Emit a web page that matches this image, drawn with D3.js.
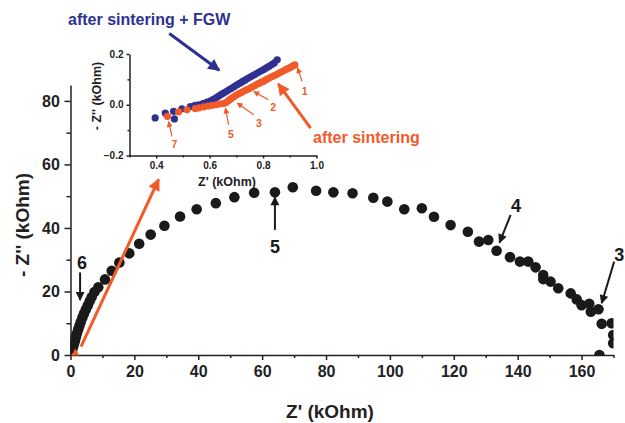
<!DOCTYPE html>
<html><head><meta charset="utf-8">
<script src="https://cdn.jsdelivr.net/npm/d3@7"></script>
<style>
body{margin:0;background:#fff;}
svg text{font-family:"Liberation Sans",Arial,sans-serif;font-weight:bold;}
</style></head>
<body><svg id="c" width="625" height="423"></svg>
<script>
// ---------- data ----------
// main Nyquist plot (kOhm)
const mainZre = [0.05,0.2,0.5,0.8,1.1,1.4,1.7,2.0,2.4,2.8,3.2,3.7,4.2,4.8,5.4,6.0,6.6,7.5,8.7,10.8,12.9,15.3,18.4,21.5,25.1,29.4,34.3,39.5,45.5,51.3,57.5,64.0,69.6,76.9,82.3,88.3,94.8,99.2,104.5,110.0,113.8,119.0,124.4,127.9,130.8,133.4,137.6,140.7,143.3,145.6,148.0,148.0,150.3,152.7,156.6,158.5,160.0,162.4,162.9,165.3,166.3,169.4,169.9,169.9,165.6];
const mainZim = [0.2,0.5,1.5,2.5,3.5,4.6,5.7,6.8,8.0,9.2,10.4,11.7,13.0,14.3,15.6,16.9,18.2,19.8,21.3,23.8,26.5,29.1,32.0,35.0,37.9,40.7,43.6,45.9,47.8,49.7,51.1,51.2,52.8,51.7,51.2,50.9,49.5,48.3,45.9,46.2,43.5,40.9,38.8,35.7,36.2,32.8,30.8,29.4,29.4,27.6,25.2,23.9,23.1,21.0,19.4,17.5,15.7,16.1,13.6,14.4,9.8,10.0,6.3,3.7,0.0];
// inset: after sintering + FGW (blue)
const fgwZre = [0.396,0.434,0.465,0.468,0.496,0.528,0.545,0.559,0.575,0.59,0.602,0.612,0.622,0.632,0.642,0.652,0.662,0.672,0.682,0.692,0.702,0.712,0.722,0.732,0.742,0.752,0.762,0.772,0.782,0.792,0.802,0.812,0.822,0.832,0.842,0.853];
const fgwZim = [-0.052,-0.033,-0.026,-0.056,-0.016,-0.007,-0.002,0.0,0.005,0.01,0.014,0.02,0.026,0.033,0.04,0.046,0.052,0.059,0.065,0.072,0.078,0.084,0.091,0.097,0.103,0.109,0.115,0.121,0.127,0.133,0.139,0.145,0.151,0.158,0.165,0.177];
// inset: after sintering (orange)
const sintZre = [0.442,0.484,0.515,0.546,0.56,0.578,0.595,0.61,0.625,0.64,0.652,0.66,0.67,0.68,0.69,0.70,0.71,0.72,0.73,0.74,0.75,0.76,0.77,0.78,0.79,0.80,0.81,0.82,0.83,0.84,0.85,0.86,0.87,0.88,0.89,0.90,0.91,0.919];
const sintZim = [-0.046,-0.028,-0.02,-0.015,-0.012,-0.008,-0.005,-0.002,0.0,0.003,0.005,0.008,0.016,0.024,0.031,0.038,0.044,0.049,0.055,0.060,0.065,0.071,0.076,0.082,0.087,0.092,0.098,0.103,0.109,0.114,0.119,0.125,0.130,0.136,0.141,0.146,0.152,0.157];
// ticks
const mainXTicks = [0,20,40,60,80,100,120,140,160];
const mainYTicks = [0,20,40,60,80];
const insetXTicks = [0.4,0.6,0.8,1.0];
const insetYTicks = [-0.2,0.0,0.2];
// annotation labels (main): label, label pos, arrow tail, arrow head (data coords)
const mainNotes = [
  {t:"6", lx:3.6, ly:29.0, x1:3.0, y1:26.0, x2:3.0, y2:17.3},
  {t:"5", lx:64.0, ly:34.0, x1:64.0, y1:39.4, x2:64.0, y2:49.7},
  {t:"4", lx:139.5, ly:47.0, x1:137.8, y1:44.1, x2:134.3, y2:35.4},
  {t:"3", lx:171.8, ly:31.5, x1:170.2, y1:29.4, x2:166.3, y2:16.3}
];
const insetNotes = [
  {t:"1", lx:0.956, ly:0.052, x1:0.946, y1:0.092, x2:0.929, y2:0.146},
  {t:"2", lx:0.838, ly:-0.012, x1:0.82, y1:0.02, x2:0.765, y2:0.052},
  {t:"3", lx:0.784, ly:-0.074, x1:0.765, y1:-0.039, x2:0.703, y2:0.007},
  {t:"5", lx:0.68, ly:-0.117, x1:0.671, y1:-0.079, x2:0.659, y2:-0.013},
  {t:"7", lx:0.468, ly:-0.156, x1:0.459, y1:-0.125, x2:0.446, y2:-0.066}
];

const BLUE="#2e3192", ORANGE="#f15a29", BLACK="#1a1a1a";
const svg=d3.select("#c");
const defs=svg.append("defs");
function marker(id,color,w,h){
  defs.append("marker").attr("id",id).attr("viewBox","0 0 10 10").attr("refX",9).attr("refY",5)
    .attr("markerWidth",w).attr("markerHeight",h).attr("markerUnits","userSpaceOnUse").attr("orient","auto")
    .append("path").attr("d","M0,0 L10,5 L0,10 Z").attr("fill",color);
}
marker("aBlack",BLACK,11,9);
marker("aOrange",ORANGE,14,12);
marker("aOrangeS",ORANGE,7,6);
marker("aBlue",BLUE,14,12);

// ---------- main plot ----------
const x=d3.scaleLinear().domain([0,170]).range([70.5,613.5]);
const y=d3.scaleLinear().domain([0,85]).range([355,85]);
defs.append("clipPath").attr("id","mclip").append("rect")
  .attr("x",x(0)).attr("y",y(85)).attr("width",x(170)-x(0)).attr("height",y(0)-y(85));

const xAxis=d3.axisBottom(x).tickValues(mainXTicks).tickFormat(d3.format("d")).tickSize(5).tickSizeOuter(0);
const gx=svg.append("g").attr("transform",`translate(0,${y(0)})`).call(xAxis);
gx.selectAll(".tick text").attr("font-size",16).attr("dy","0.9em").attr("fill","#222");
svg.append("g").attr("transform",`translate(0,${y(0)})`)
  .call(d3.axisBottom(x).tickValues(d3.range(10,171,20)).tickFormat("").tickSize(3).tickSizeOuter(0))
  .select(".domain").remove();
const gy=svg.append("g").attr("transform",`translate(${x(0)},0)`)
  .call(d3.axisLeft(y).tickValues(mainYTicks).tickFormat(d3.format("d")).tickSize(6).tickSizeOuter(0));
gy.selectAll(".tick text").attr("font-size",16).attr("dx","-0.1em").attr("fill","#222");
svg.append("g").attr("transform",`translate(${x(0)},0)`)
  .call(d3.axisLeft(y).tickValues([10,30,50,70]).tickFormat("").tickSize(4).tickSizeOuter(0))
  .select(".domain").remove();
svg.selectAll(".domain,.tick line").attr("stroke","#222").attr("stroke-width",1.5);

svg.append("text").attr("x",330).attr("y",418).attr("text-anchor","middle").attr("font-size",19).attr("fill","#222").text("Z' (kOhm)");
svg.append("text").attr("transform","translate(29,225) rotate(-90)").attr("text-anchor","middle").attr("font-size",19).attr("fill","#222").text("- Z'' (kOhm)");

svg.append("g").attr("clip-path","url(#mclip)").selectAll("circle")
  .data(mainZre.map((v,i)=>[v,mainZim[i]])).join("circle")
  .attr("cx",d=>x(d[0])).attr("cy",d=>y(d[1])).attr("r",5.3).attr("fill",BLACK);

// orange long arrow + triangle at origin
svg.append("line").attr("x1",x(3.3)).attr("y1",y(2.6)).attr("x2",x(27.6)).attr("y2",y(55.3))
  .attr("stroke",ORANGE).attr("stroke-width",3).attr("marker-end","url(#aOrange)");
svg.append("path").attr("d",d3.symbol(d3.symbolTriangle,28)()).attr("fill",ORANGE)
  .attr("transform",`translate(${x(1.5)},${y(0.6)})`);

mainNotes.forEach(n=>{
  svg.append("line").attr("x1",x(n.x1)).attr("y1",y(n.y1)).attr("x2",x(n.x2)).attr("y2",y(n.y2))
    .attr("stroke",BLACK).attr("stroke-width",2).attr("marker-end","url(#aBlack)");
  svg.append("text").attr("x",x(n.lx)).attr("y",y(n.ly)).attr("text-anchor","middle").attr("dy","0.35em")
    .attr("font-size",18).attr("fill",BLACK).text(n.t);
});

// ---------- inset ----------
const xi=d3.scaleLinear().domain([0.3,1.0]).range([129.5,316.5]);
const yi=d3.scaleLinear().domain([-0.2,0.2]).range([155.5,54]);
const gix=svg.append("g").attr("transform",`translate(0,${yi(-0.2)})`)
  .call(d3.axisBottom(xi).tickValues(insetXTicks).tickFormat(d3.format(".1f")).tickSize(3).tickSizeOuter(0));
gix.selectAll(".tick text").attr("font-size",10).attr("fill","#222");
svg.append("g").attr("transform",`translate(0,${yi(-0.2)})`)
  .call(d3.axisBottom(xi).tickValues([0.3,0.5,0.7,0.9]).tickFormat("").tickSize(2).tickSizeOuter(0))
  .select(".domain").remove();
const giy=svg.append("g").attr("transform",`translate(${xi(0.3)},0)`)
  .call(d3.axisLeft(yi).tickValues(insetYTicks).tickFormat(d3.format(".1f")).tickSize(3).tickSizeOuter(0));
giy.selectAll(".tick text").attr("font-size",10).attr("fill","#222");
svg.append("g").attr("transform",`translate(${xi(0.3)},0)`)
  .call(d3.axisLeft(yi).tickValues([-0.1,0.1]).tickFormat("").tickSize(2).tickSizeOuter(0))
  .select(".domain").remove();
svg.selectAll(".domain,.tick line").attr("stroke","#222").attr("stroke-width",1.5);

svg.append("text").attr("x",227).attr("y",186).attr("text-anchor","middle").attr("font-size",12.5).attr("fill","#222").text("Z' (kOhm)");
svg.append("text").attr("transform","translate(101,96) rotate(-90)").attr("text-anchor","middle").attr("font-size",12.5).attr("fill","#222").text("- Z'' (kOhm)");

svg.append("g").selectAll("circle").data(fgwZre.map((v,i)=>[v,fgwZim[i]])).join("circle")
  .attr("cx",d=>xi(d[0])).attr("cy",d=>yi(d[1])).attr("r",3.6).attr("fill",BLUE);
svg.append("g").selectAll("circle").data(sintZre.map((v,i)=>[v,sintZim[i]])).join("circle")
  .attr("cx",d=>xi(d[0])).attr("cy",d=>yi(d[1])).attr("r",3.6).attr("fill",ORANGE);

insetNotes.forEach(n=>{
  svg.append("line").attr("x1",xi(n.x1)).attr("y1",yi(n.y1)).attr("x2",xi(n.x2)).attr("y2",yi(n.y2))
    .attr("stroke",ORANGE).attr("stroke-width",1.2).attr("marker-end","url(#aOrangeS)");
  svg.append("text").attr("x",xi(n.lx)).attr("y",yi(n.ly)).attr("text-anchor","middle").attr("dy","0.35em")
    .attr("font-size",10.5).attr("fill",ORANGE).text(n.t);
});

// legend-like labels with arrows
svg.append("text").attr("x",68).attr("y",25).attr("font-size",16).attr("fill",BLUE).text("after sintering + FGW");
svg.append("line").attr("x1",xi(0.449)).attr("y1",yi(0.281)).attr("x2",xi(0.636)).attr("y2",yi(0.136))
  .attr("stroke",BLUE).attr("stroke-width",3).attr("marker-end","url(#aBlue)");
svg.append("text").attr("x",313).attr("y",143).attr("font-size",16).attr("fill",ORANGE).text("after sintering");
svg.append("line").attr("x1",xi(0.978)).attr("y1",yi(-0.092)).attr("x2",xi(0.857)).attr("y2",yi(0.082))
  .attr("stroke",ORANGE).attr("stroke-width",3).attr("marker-end","url(#aOrange)");
</script></body></html>
